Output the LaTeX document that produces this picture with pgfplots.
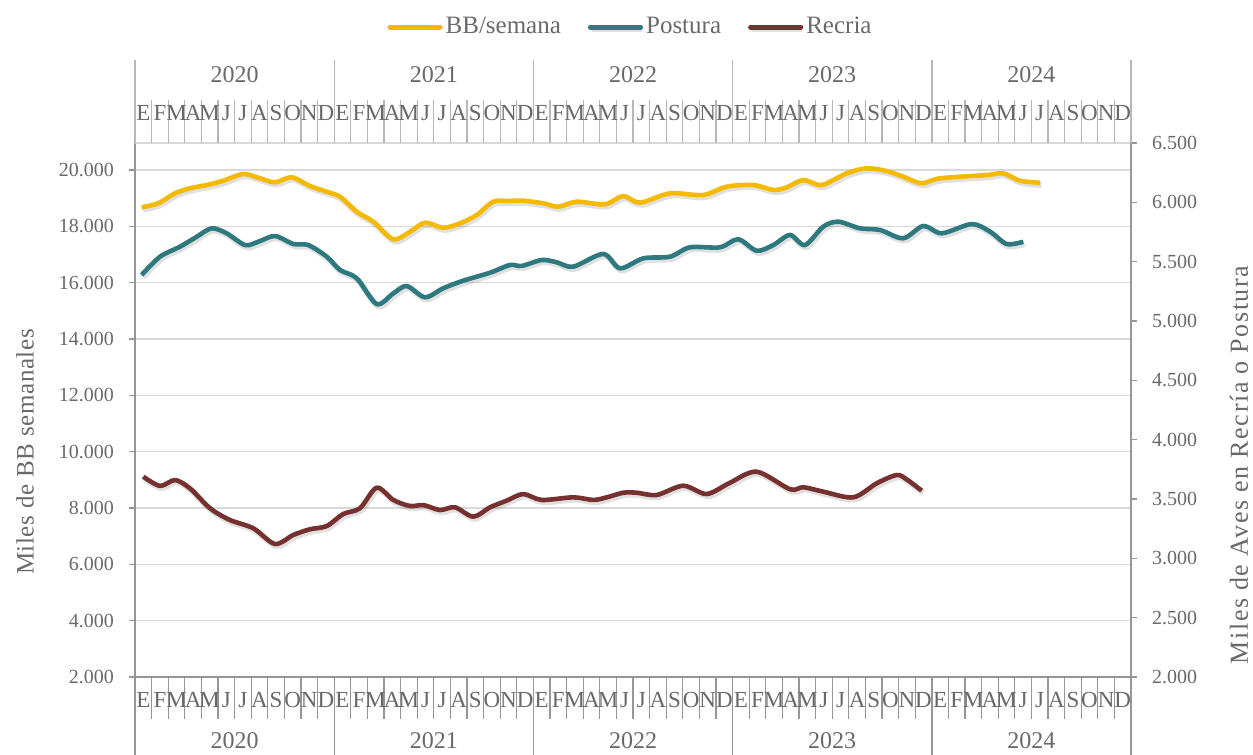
\documentclass[border=0pt]{standalone}
\usepackage{fontspec}
\setmainfont{Liberation Serif}
\usepackage{pgfplots}
\pgfplotsset{compat=1.18}
\definecolor{bbcol}{RGB}{245,185,0}
\definecolor{poscol}{RGB}{46,120,128}
\definecolor{reccol}{RGB}{118,48,48}
\definecolor{txtgray}{RGB}{105,105,105}
\definecolor{gridgray}{RGB}{217,217,217}
\definecolor{axgray}{RGB}{150,150,150}

\begin{document}
\begin{tikzpicture}
\path[use as bounding box] (-67.5pt,-39pt) rectangle (559pt,338.5pt);
\pgfplotsset{
  base/.style={scale only axis, width=498pt, height=267pt,
    at={(0pt,0pt)}, anchor=south west, xmin=0, xmax=60,
    tick align=outside, major tick length=3pt,
    tick style={axgray, line width=0.6pt},
    axis line style={axgray, line width=0.8pt},
    ticklabel style={font=\fontsize{10}{12}\selectfont, text=txtgray},
    scaled y ticks=false,
    /pgf/number format/assume math mode=true,
    /pgf/number format/1000 sep={.},
    /pgf/number format/fixed},
  serie/.style={line width=2.3pt, smooth, tension=0.5, line join=round,
    preaction={draw=black, opacity=0.12, line width=3pt,
      transform canvas={xshift=0.7pt, yshift=-1.1pt}}},
}
% eje izquierdo: BB semanales
\begin{axis}[base, ymin=2000, ymax=20958, ytick={2000,4000,...,20000},
    axis y line*=left, axis x line*=bottom, xtick=\empty,
    ymajorgrids, grid style={gridgray, line width=0.8pt},
    yticklabel style={xshift=-4pt}]
\addplot[bbcol, serie] coordinates {
 (0.40,18674) (1.40,18816) (2.41,19171) (3.31,19349) (4.32,19466)
 (5.32,19619) (6.52,19857) (7.53,19704) (8.43,19562) (9.44,19739)
 (10.54,19431) (11.55,19228) (12.35,19051) (13.36,18518) (14.36,18163)
 (15.56,17538) (16.57,17808) (17.47,18128) (18.57,17950) (19.58,18106)
 (20.58,18401) (21.58,18873) (22.50,18900) (23.39,18909) (24.60,18816)
 (25.50,18696) (26.61,18873) (28.31,18781) (29.42,19076) (30.42,18838)
 (32.23,19171) (34.23,19111) (35.64,19406) (37.25,19466) (38.45,19289)
 (39.26,19384) (40.26,19644) (41.37,19466) (42.87,19881) (44.08,20059)
 (45.28,19963) (46.28,19761) (47.39,19526) (48.49,19704) (51.31,19821)
 (52.31,19881) (53.31,19619) (54.52,19548)
};
\draw[gridgray, line width=0.8pt] (rel axis cs:0,1) -- (rel axis cs:1,1);
\end{axis}
% eje derecho: aves en recria o postura
\begin{axis}[base, ymin=2000, ymax=6500, ytick={2000,2500,...,6500},
    axis y line*=right, axis x line=none,
    yticklabel style={xshift=4pt},
    legend columns=3,
    legend style={at={(0.498,1.217)}, anchor=center, draw=none, fill=none,
      font=\fontsize{12.5}{14}\selectfont, text=txtgray,
      /tikz/every even column/.append style={column sep=12pt},
      nodes={inner sep=1.5pt}},
    legend image code/.code={\draw[#1, line width=2.6pt, line cap=round] (0pt,0pt) -- (25pt,0pt);}]
\addlegendimage{bbcol}
\addlegendentry{BB/semana}
\addplot[poscol, serie] coordinates {
 (0.40,5388) (1.51,5542) (2.71,5626) (3.72,5710) (4.62,5781)
 (5.52,5739) (6.63,5640) (7.43,5668) (8.43,5716) (9.54,5649)
 (10.44,5640) (11.55,5542) (12.35,5430) (13.36,5360) (14.56,5143)
 (15.56,5233) (16.37,5295) (17.47,5200) (18.57,5276) (19.78,5340)
 (21.39,5407) (22.59,5472) (23.30,5464) (24.50,5514) (25.40,5495)
 (26.40,5458) (28.21,5565) (29.22,5444) (30.62,5528) (32.23,5542)
 (33.43,5621) (35.24,5621) (36.34,5689) (37.45,5592) (38.45,5640)
 (39.46,5725) (40.36,5640) (41.46,5795) (42.37,5837) (43.67,5781)
 (44.88,5767) (46.28,5697) (47.49,5801) (48.60,5739) (50.40,5817)
 (51.51,5753) (52.51,5649) (53.51,5668)
};
\addlegendentry{Postura}
\addplot[reccol, serie] coordinates {
 (0.50,3688) (1.51,3610) (2.41,3660) (3.31,3590) (4.52,3422)
 (5.72,3323) (7.13,3253) (8.43,3121) (9.54,3197) (10.54,3245)
 (11.55,3272) (12.55,3374) (13.55,3422) (14.56,3595) (15.56,3492)
 (16.57,3441) (17.37,3449) (18.37,3407) (19.28,3430) (20.38,3351)
 (21.39,3430) (22.39,3486) (23.39,3542) (24.50,3492) (26.40,3514)
 (27.61,3492) (28.42,3514) (29.42,3553) (30.22,3553) (31.43,3534)
 (33.03,3612) (34.44,3542) (35.84,3637) (37.45,3730) (39.46,3582)
 (40.26,3599) (41.46,3562) (43.27,3514) (44.68,3632) (45.88,3702)
 (46.48,3666) (47.39,3570)
};
\addlegendentry{Recria}
\end{axis}
% titulos de ejes
\node[rotate=90, text=txtgray, font=\fontsize{12.5}{14}\selectfont\addfontfeature{LetterSpace=2.5}] at (-55pt,112.5pt) {Miles de BB semanales};
\node[rotate=90, text=txtgray, font=\fontsize{13}{14}\selectfont\addfontfeature{LetterSpace=6}] at (552pt,106pt) {Miles de Aves en Recría o Postura};
% separadores de meses y anios
\foreach \i in {0,...,60} {
  \draw[axgray, line width=0.6pt] ({\i*8.3pt},0pt) -- ({\i*8.3pt},-21pt);
  \draw[gridgray!85!black, line width=0.6pt] ({\i*8.3pt},267pt) -- ({\i*8.3pt},288.5pt);
}
\foreach \i in {0,12,...,60} {
  \draw[axgray, line width=0.7pt] ({\i*8.3pt},0pt) -- ({\i*8.3pt},-39pt);
  \draw[gridgray!85!black, line width=0.7pt] ({\i*8.3pt},267pt) -- ({\i*8.3pt},308.5pt);
}
\foreach \y [count=\k from 0] in {2020,2021,2022,2023,2024} {
  \node[text=txtgray, font=\fontsize{12}{14}\selectfont] at ({(12*\k+6)*8.3pt},-32pt) {\y};
  \node[text=txtgray, font=\fontsize{12}{14}\selectfont] at ({(12*\k+6)*8.3pt},301pt) {\y};
  \foreach \l [count=\m from 0] in {E,F,M,A,M,J,J,A,S,O,N,D} {
    \node[text=txtgray, font=\fontsize{11.5}{13}\selectfont, inner sep=0pt] at ({(12*\k+\m+0.5)*8.3pt},-11.5pt) {\l};
    \node[text=txtgray, font=\fontsize{11.5}{13}\selectfont, inner sep=0pt] at ({(12*\k+\m+0.5)*8.3pt},282pt) {\l};
  }
}
\end{tikzpicture}
\end{document}
